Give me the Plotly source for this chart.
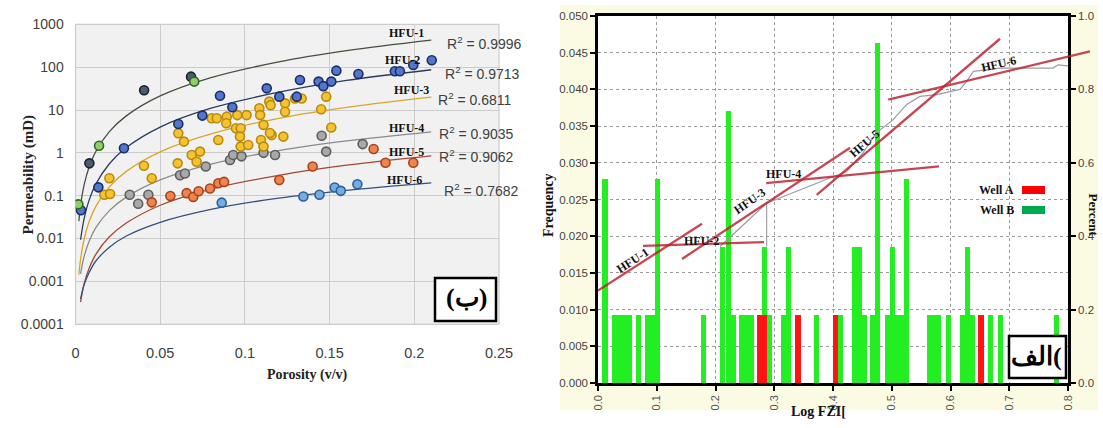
import numpy as np
import plotly.graph_objects as go

W, H = 1103, 428
def px(x): return x / W
def py(y): return 1 - y / H

SERIF = "Liberation Serif, Times New Roman, serif"
SANS = "Liberation Sans, Arial, sans-serif"

# ---------------- Left panel (porosity vs permeability) ----------------
HFU1_GREEN_PHI = [0.0017, 0.0139, 0.0701]
HFU1_GREEN_K = [0.063, 1.47, 46]
HFU1_DARK_PHI = [0.0082, 0.0405, 0.0682]
HFU1_DARK_K = [0.57, 29, 60]
HFU2_PHI = [0.0032, 0.0135, 0.0286, 0.0607, 0.0749, 0.0853, 0.0926, 0.1129, 0.1203, 0.1306,
            0.1325, 0.1435, 0.1463, 0.151, 0.154, 0.167, 0.1885, 0.1915, 0.1994, 0.2103]
HFU2_K = [0.046, 0.157, 1.28, 4.7, 7.4, 21.6, 11.6, 32, 20.5, 20.5,
          50, 46, 36, 46, 83, 69, 80, 80, 112, 145]
HFU3_PHI = [0.017, 0.0204, 0.020, 0.0404, 0.045, 0.0607, 0.064, 0.0603, 0.0686, 0.0735,
            0.0715, 0.0804, 0.0834, 0.0893, 0.089, 0.0843, 0.0955, 0.0947, 0.0975, 0.0971,
            0.101, 0.0975, 0.102, 0.1085, 0.109, 0.111, 0.1144, 0.1152, 0.1095, 0.111,
            0.1158, 0.1237, 0.1296, 0.1335, 0.1237, 0.145, 0.148, 0.1227, 0.151, 0.1148]
HFU3_K = [0.105, 0.11, 0.255, 0.50, 0.255, 2.87, 1.83, 0.57, 0.89, 1.07,
          0.62, 6.4, 6.4, 7.0, 4.9, 2.0, 7.6, 3.75, 3.75, 2.4,
          7.6, 1.4, 1.53, 11, 7.6, 4.5, 15.7, 13, 2.0, 1.4,
          2.6, 14.3, 18.6, 18.6, 9.1, 10.4, 20.5, 2.4, 3.9, 2.9]
HFU4_PHI = [0.032, 0.043, 0.037, 0.0617, 0.0646, 0.0769, 0.0912, 0.0931, 0.098, 0.111,
            0.1178, 0.1453, 0.148, 0.1695]
HFU4_K = [0.105, 0.105, 0.065, 0.30, 0.33, 0.48, 0.68, 0.89, 0.83, 1.0,
          0.89, 2.5, 1.07, 1.6]
HFU5_PHI = [0.045, 0.056, 0.0656, 0.0695, 0.0727, 0.0794, 0.0843, 0.0877, 0.1203, 0.14,
            0.176, 0.183, 0.1994]
HFU5_K = [0.07, 0.0985, 0.115, 0.094, 0.127, 0.147, 0.195, 0.21, 0.233, 0.48,
          1.23, 0.59, 0.59]
HFU6_PHI = [0.0863, 0.1345, 0.144, 0.153, 0.1566, 0.1664]
HFU6_K = [0.069, 0.096, 0.105, 0.156, 0.13, 0.186]

# trend curves
CURVE_PHI = [0.002, 0.003, 0.005, 0.008, 0.012, 0.02, 0.03, 0.05, 0.08, 0.12, 0.16, 0.21]
HFU1_CURVE = [0.0255, 0.060, 0.173, 0.46, 1.08, 3.14, 7.3, 21.3, 57, 133, 243, 428]
HFU2_CURVE = [None, 0.0094, 0.028, 0.078, 0.186, 0.557, 1.33, 4.0, 11, 26, 49, 87]
HFU3_CURVE = [0.00144, 0.0033, 0.0094, 0.0247, 0.0566, 0.161, 0.37, 1.06, 2.77, 6.4, 11.5, 20]
HFU4_CURVE = [None, 0.0015, 0.0037, 0.0086, 0.018, 0.045, 0.093, 0.234, 0.546, 1.13, 1.9, 3.1]
HFU5_CURVE = [None, 0.00033, 0.00085, 0.002, 0.0043, 0.011, 0.023, 0.06, 0.143, 0.30, 0.515, 0.85]
HFU6_CURVE = [None, 0.00039, 0.00082, 0.0016, 0.003, 0.0063, 0.0115, 0.024, 0.048, 0.088, 0.134, 0.2]

HFU_NAMES = ["HFU-1", "HFU-2", "HFU-3", "HFU-4", "HFU-5", "HFU-6"]
LEFT_LABEL_PHI = [0.1955, 0.1932, 0.1985, 0.1955, 0.1955, 0.1943]
LEFT_LABEL_K = [627, 147, 29, 3.8, 1.05, 0.233]
R2_VALUES = ["0.9996", "0.9713", "0.6811", "0.9035", "0.9062", "0.7682"]
R2_PHI = [0.2181, 0.2169, 0.2128, 0.2134, 0.2134, 0.2164]
R2_K = [366, 73.1, 18.1, 2.91, 0.845, 0.136]

K_TICKS = [0.0001, 0.001, 0.01, 0.1, 1, 10, 100, 1000]
K_TICK_TEXT = ["0.0001", "0.001", "0.01", "0.1", "1", "10", "100", "1000"]
PHI_TICKS = [0, 0.05, 0.1, 0.15, 0.2, 0.25]
PHI_TICK_TEXT = ["0", "0.05", "0.1", "0.15", "0.2", "0.25"]

# ---------------- Right panel (Log FZI histogram) ----------------
WELL_B_X = [0.012, 0.029, 0.037, 0.045, 0.053, 0.069, 0.084, 0.092, 0.101, 0.180,
            0.2125, 0.2215, 0.230, 0.2445, 0.253, 0.2615, 0.284, 0.2925, 0.3165, 0.3245,
            0.372, 0.413, 0.436, 0.445, 0.453, 0.4675, 0.476, 0.4925, 0.501, 0.5095,
            0.516, 0.5245, 0.564, 0.572, 0.580, 0.5965, 0.6205, 0.629, 0.6375, 0.6685,
            0.6845, 0.781]
WELL_B_F = [0.0278, 0.0093, 0.0093, 0.0093, 0.0093, 0.0093, 0.0093, 0.0093, 0.0278, 0.0093,
            0.0185, 0.037, 0.0093, 0.0093, 0.0093, 0.0093, 0.0185, 0.0093, 0.0093, 0.0185,
            0.0093, 0.0093, 0.0185, 0.0185, 0.0093, 0.0093, 0.0463, 0.0093, 0.0185, 0.0093,
            0.0093, 0.0278, 0.0093, 0.0093, 0.0093, 0.0093, 0.0093, 0.0185, 0.0093, 0.0093,
            0.0093, 0.0093]
WELL_A_X = [0.275, 0.284, 0.3405, 0.405, 0.652]
WELL_A_F = [0.0093, 0.0093, 0.0093, 0.0093, 0.0093]
BIN_W = 0.0087

CUM_X = [0.2077, 0.2871, 0.40, 0.4233, 0.451, 0.474, 0.502, 0.5255, 0.548, 0.5765,
         0.616, 0.6276, 0.639, 0.684, 0.7745, 0.783, 0.80]
CUM_P = [0.372, 0.49, 0.562, 0.576, 0.627, 0.682, 0.717, 0.759, 0.781, 0.786,
         0.80, 0.822, 0.849, 0.858, 0.858, 0.867, 0.864]
CUM_STEP_X = [0.2871, 0.2871]
CUM_STEP_P = [0.372, 0.49]

LINE_X = [[0.0, 0.177], [0.0766, 0.2826], [0.143, 0.429], [0.2864, 0.5804], [0.3723, 0.6843], [0.494, 0.8374]]
LINE_P = [[0.252, 0.434], [0.3736, 0.3837], [0.338, 0.641], [0.5446, 0.590], [0.5127, 0.938], [0.772, 0.9035]]
RLABEL_X = [0.0579, 0.177, 0.2587, 0.315, 0.4528, 0.681]
RLABEL_P = [0.333, 0.387, 0.496, 0.570, 0.652, 0.870]
RLABEL_ANGLE = [-33, 0, -35, 0, -41, -13]

FZI_TICKS = [0.0, 0.1, 0.2, 0.3, 0.4, 0.5, 0.6, 0.7, 0.8]

fig = go.Figure()

# ---- left scatter + curves
curve_styles = [
    (HFU1_CURVE, "#46503f"), (HFU2_CURVE, "#2b3b5c"), (HFU3_CURVE, "#d8a72a"),
    (HFU4_CURVE, "#8a8a8a"), (HFU5_CURVE, "#a24a35"), (HFU6_CURVE, "#34507e"),
]
for vals, col in curve_styles:
    fig.add_trace(go.Scatter(x=CURVE_PHI, y=vals, mode="lines", line=dict(color=col, width=1.3, shape="spline"),
                             xaxis="x", yaxis="y", showlegend=False, hoverinfo="skip"))

groups = [
    (HFU4_PHI, HFU4_K, "#a9a9a9", "#5f5f5f"),
    (HFU5_PHI, HFU5_K, "#ee8452", "#a8431a"),
    (HFU6_PHI, HFU6_K, "#74aee0", "#2c5f9c"),
    (HFU3_PHI, HFU3_K, "#f5c232", "#b98a0c"),
    (HFU2_PHI, HFU2_K, "#5077cc", "#1c2d66"),
    (HFU1_DARK_PHI, HFU1_DARK_K, "#4c5b70", "#1a2230"),
    (HFU1_GREEN_PHI, HFU1_GREEN_K, "#8fcf6a", "#2f6a22"),
]
for xs, ys, fc, lc in groups:
    fig.add_trace(go.Scatter(x=xs, y=ys, mode="markers",
                             marker=dict(size=9, color=fc, line=dict(color=lc, width=1.6)),
                             xaxis="x", yaxis="y", showlegend=False))

# ---- right histogram
fig.add_trace(go.Bar(x=WELL_B_X, y=WELL_B_F, width=BIN_W, marker=dict(color="#22ee22", line=dict(width=0)),
                     xaxis="x2", yaxis="y2", showlegend=False))
fig.add_trace(go.Bar(x=WELL_A_X, y=WELL_A_F, width=BIN_W, marker=dict(color="#ff1414", line=dict(width=0)),
                     xaxis="x2", yaxis="y2", showlegend=False))

fig.add_trace(go.Scatter(x=CUM_X, y=CUM_P, mode="lines", line=dict(color="#9c9c9c", width=1.2),
                         xaxis="x2", yaxis="y3", showlegend=False))
fig.add_trace(go.Scatter(x=CUM_STEP_X, y=CUM_STEP_P, mode="lines", line=dict(color="#9c9c9c", width=1.1),
                         xaxis="x2", yaxis="y3", showlegend=False))

for lx, lp in zip(LINE_X, LINE_P):
    fig.add_trace(go.Scatter(x=lx, y=lp, mode="lines", line=dict(color="rgba(185,30,45,0.82)", width=2.3),
                             xaxis="x3", yaxis="y4", showlegend=False))

annotations = []
# left labels
for name, x, k in zip(HFU_NAMES, LEFT_LABEL_PHI, LEFT_LABEL_K):
    annotations.append(dict(x=x, y=np.log10(k), xref="x", yref="y", text="<b>%s</b>" % name, showarrow=False,
                            font=dict(family=SERIF, size=12, color="#111")))
for v, x, k in zip(R2_VALUES, R2_PHI, R2_K):
    annotations.append(dict(x=x, y=np.log10(k), xref="x", yref="y", text="R<sup>2</sup> = %s" % v, showarrow=False,
                            xanchor="left", font=dict(family=SANS, size=14, color="#404040")))
# right labels
for name, x, p, a in zip(HFU_NAMES, RLABEL_X, RLABEL_P, RLABEL_ANGLE):
    annotations.append(dict(x=x, y=p, xref="x2", yref="y3", text="<b>%s</b>" % name, showarrow=False,
                            textangle=a, font=dict(family=SERIF, size=12, color="#111")))

# axis titles and boxes
annotations += [
    dict(x=px(17), y=py(175), xref="paper", yref="paper", text="<b>Permeability (mD)</b>", textangle=-90,
         showarrow=False, font=dict(family=SERIF, size=15, color="#222")),
    dict(x=px(265), y=py(385), xref="paper", yref="paper", text="<b>Porosity (v/v)</b>",
         showarrow=False, font=dict(family=SERIF, size=14, color="#222")),
    dict(x=px(548), y=py(205), xref="paper", yref="paper", text="<b>Frequency</b>", textangle=-90,
         showarrow=False, font=dict(family=SERIF, size=14, color="#111")),
    dict(x=1, y=py(215), xref="paper", yref="paper", text="<b>Percent</b>", textangle=90,
         xanchor="right", showarrow=False, font=dict(family=SERIF, size=13, color="#111")),
    dict(x=px(848), y=py(421), xref="paper", yref="paper", text="<b>Log FZI[</b>",
         showarrow=False, font=dict(family=SERIF, size=14, color="#111")),
    dict(x=px(466), y=py(314), xref="paper", yref="paper", text="<b>(ب)</b>",
         showarrow=False, font=dict(family=SERIF, size=26, color="#000")),
    dict(x=px(1064), y=py(373), xref="paper", yref="paper", text="<b>الف(</b>",
         showarrow=False, font=dict(family=SERIF, size=26, color="#000")),
    dict(x=px(1016), y=py(190), xref="paper", yref="paper", text="<b>Well A</b>", xanchor="right",
         showarrow=False, font=dict(family=SERIF, size=12, color="#111")),
    dict(x=px(1016), y=py(210), xref="paper", yref="paper", text="<b>Well B</b>", xanchor="right",
         showarrow=False, font=dict(family=SERIF, size=12, color="#111")),
]

shapes = [
    # right panel yellow frame
    dict(type="rect", xref="paper", yref="paper", x0=px(560), x1=px(1098), y0=py(410), y1=py(5),
         fillcolor="#fbfbe4", line=dict(width=0), layer="below"),
    # right plot area white
    dict(type="rect", xref="x2 domain", yref="y2 domain", x0=0, x1=1, y0=0, y1=1,
         fillcolor="white", line=dict(width=0), layer="below"),
    # left plot area
    dict(type="rect", xref="x domain", yref="y domain", x0=0, x1=1, y0=0, y1=1,
         fillcolor="#f1f1f1", line=dict(color="#cccccc", width=1.2), layer="below"),
    # boxes
    dict(type="rect", xref="paper", yref="paper", x0=px(435), x1=px(496), y0=py(321), y1=py(278),
         fillcolor="white", line=dict(color="black", width=2.5), layer="above"),
    dict(type="rect", xref="paper", yref="paper", x0=px(1009), x1=px(1066), y0=py(378), y1=py(336),
         fillcolor="white", line=dict(color="black", width=2.5), layer="above"),
    # legend swatches
    dict(type="rect", xref="paper", yref="paper", x0=px(1022), x1=px(1045), y0=py(194), y1=py(186),
         fillcolor="#ff0000", line=dict(width=0)),
    dict(type="rect", xref="paper", yref="paper", x0=px(1022), x1=px(1045), y0=py(214), y1=py(206),
         fillcolor="#00a850", line=dict(width=0)),
]

fig.update_layout(
    width=W, height=H, margin=dict(l=0, r=0, t=0, b=0, pad=0, autoexpand=False),
    paper_bgcolor="white", plot_bgcolor="rgba(0,0,0,0)",
    barmode="overlay", bargap=0,
    showlegend=False,
    annotations=annotations, shapes=shapes,
    xaxis=dict(domain=[px(75.5), px(499)], range=[0, 0.25], anchor="y",
               tickvals=PHI_TICKS, ticktext=PHI_TICK_TEXT, showgrid=True, gridcolor="#cccccc", gridwidth=1.2,
               zeroline=False, showline=False, ticks="outside", ticklen=15, tickcolor="rgba(0,0,0,0)",
               tickfont=dict(family=SANS, size=14.5, color="#404040")),
    yaxis=dict(domain=[py(324.3), py(24.3)], type="log", range=[-4, 3], anchor="x",
               tickvals=K_TICKS, ticktext=K_TICK_TEXT, showgrid=True, gridcolor="#cccccc", gridwidth=1.2,
               zeroline=False, showline=False, ticks="outside", ticklen=8, tickcolor="rgba(0,0,0,0)",
               tickfont=dict(family=SANS, size=14, color="#404040")),
    xaxis2=dict(domain=[px(598), px(1068)], range=[0, 0.8], anchor="y2",
                tickvals=FZI_TICKS, tickformat=".1f", tickangle=-90,
                showgrid=True, gridcolor="#9a9a9a", griddash="dot", gridwidth=1,
                zeroline=False, showline=True, linecolor="black", linewidth=2.5, mirror=True,
                ticks="outside", ticklen=5, tickwidth=2, tickcolor="black",
                tickfont=dict(family=SANS, size=11, color="#555")),
    yaxis2=dict(domain=[py(383), py(16)], range=[0, 0.05], anchor="x2", dtick=0.005, tick0=0,
                tickformat=".3f", showgrid=True, gridcolor="#9a9a9a", griddash="dot", gridwidth=1,
                zeroline=False, showline=True, linecolor="black", linewidth=2.5, mirror=True,
                ticks="outside", ticklen=5, tickwidth=2, tickcolor="black",
                tickfont=dict(family=SANS, size=11.5, color="#444")),
    yaxis3=dict(overlaying="y2", side="right", anchor="x2", range=[0, 1], dtick=0.2, tick0=0,
                tickformat=".1f", showgrid=False, zeroline=False, showline=True, linecolor="black",
                linewidth=2.5, ticks="outside", ticklen=5, tickwidth=2, tickcolor="black",
                tickfont=dict(family=SANS, size=11.5, color="#444")),
    xaxis3=dict(domain=[px(598), px(1098)], range=[0, 0.8 * (1098 - 598) / (1068 - 598)], anchor="y4",
                visible=False, showgrid=False, zeroline=False),
    yaxis4=dict(domain=[py(383), py(16)], range=[0, 1], anchor="x3", visible=False,
                showgrid=False, zeroline=False),
)

fig.write_html("out.html")
